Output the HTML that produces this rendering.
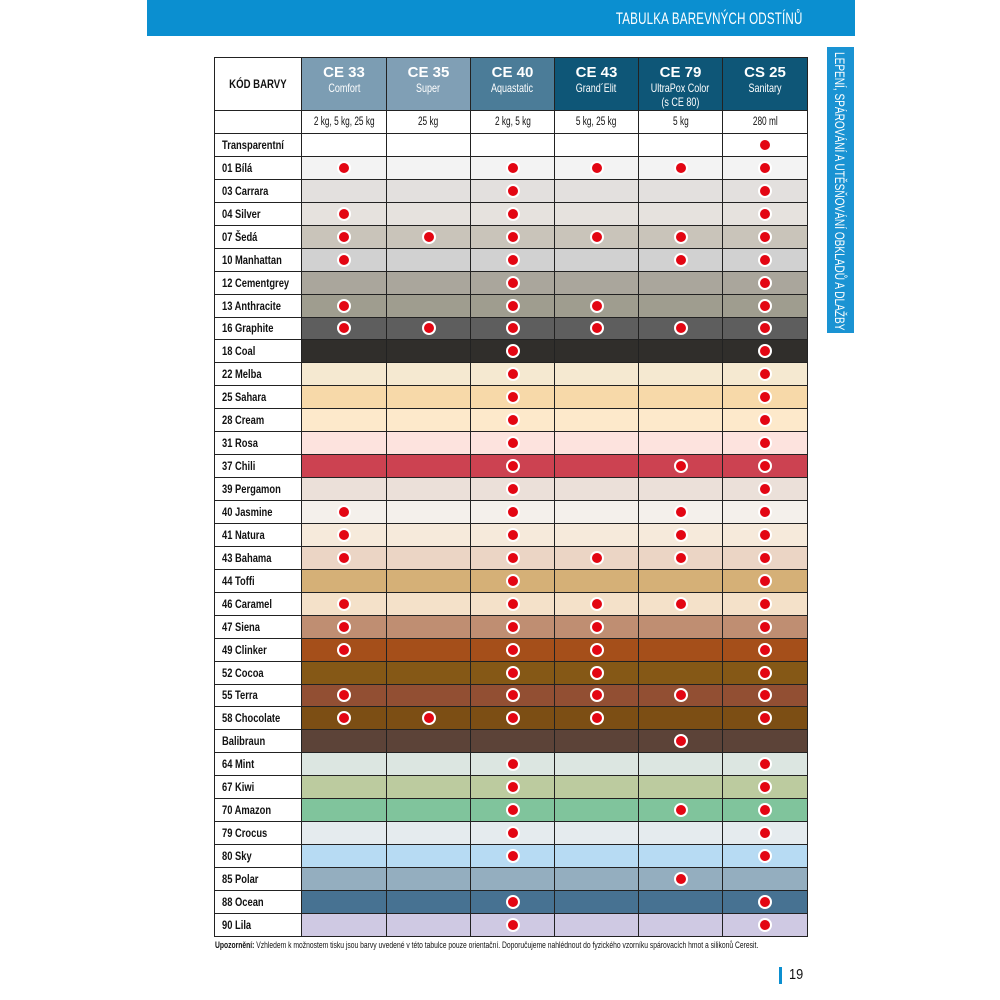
<!DOCTYPE html>
<html><head><meta charset="utf-8">
<style>
html,body{margin:0;padding:0;background:#fff;}
body{width:1000px;height:1000px;position:relative;overflow:hidden;font-family:"Liberation Sans",sans-serif;}
.bar{position:absolute;left:147px;top:0;width:708px;height:36px;background:#0b8fd0;}
.title{position:absolute;right:197px;top:9px;color:#fff;font-size:17px;white-space:nowrap;transform:scaleX(0.68);transform-origin:right center;letter-spacing:0.3px;}
.tab{position:absolute;left:827px;top:47px;width:27px;height:286px;background:#1a93d3;overflow:hidden;}
.tabt{position:absolute;left:5px;top:5px;writing-mode:vertical-rl;color:#fff;font-size:14px;white-space:nowrap;transform:scaleY(0.72);transform-origin:top center;line-height:16px;}
.tbl{position:absolute;left:214px;top:57px;width:594px;height:880px;background:#222;padding:1px;box-sizing:border-box;display:flex;flex-direction:column;gap:1px;}
.r{display:grid;grid-template-columns:86px 84px 83px 83px 83px 83px 1fr;gap:1px;flex:1 1 0;min-height:0;}
.r>div{background:var(--c);display:flex;align-items:center;justify-content:center;overflow:hidden;}
.r>div.n{background:#fff;justify-content:flex-start;padding-left:7px;}
.n span{display:inline-block;font-weight:bold;font-size:12px;color:#111;transform:scaleX(0.78);transform-origin:left center;white-space:nowrap;}
.h{flex:0 0 52px;}
.s{flex:0 0 22px;}
.h>div{flex-direction:column;color:#fff;line-height:13px;justify-content:flex-start !important;padding-top:7px;box-sizing:border-box;}
.h>div b{font-size:15px;display:block;line-height:16px;}
.h>div span{font-size:12px;display:block;transform:scaleX(0.75);white-space:nowrap;line-height:14px;}
.h>div.k{background:#fff;color:#111;justify-content:center !important;padding-top:0;}
.h>div.k b{font-size:12px;transform:scaleX(0.8);white-space:nowrap;}
.s>div{background:#fff;}
.s>div span{font-size:11.5px;color:#111;transform:scaleX(0.72);white-space:nowrap;display:inline-block;}
i{display:block;width:10px;height:10px;border-radius:50%;background:#e30613;border:2px solid #fff;}
.note{position:absolute;left:215px;top:940px;font-size:9px;color:#111;white-space:nowrap;transform:scaleX(0.75);transform-origin:left top;}
.pb{position:absolute;left:779px;top:967px;width:3px;height:17px;background:#0b8fd0;}
.pn{position:absolute;left:789px;top:966px;font-size:15px;color:#111;transform:scaleX(0.85);transform-origin:left top;}
</style></head><body>
<div class="bar"></div>
<div class="title">TABULKA BAREVNÝCH ODSTÍNŮ</div>
<div class="tab"><div class="tabt">LEPENÍ, SPÁROVÁNÍ A UTĚSŇOVÁNÍ OBKLADŮ A DLAŽBY</div></div>

<div class="tbl">
<div class="r h">
<div class="k"><b>KÓD BARVY</b></div>
<div style="background:#7c9db3"><b>CE 33</b><span>Comfort</span></div>
<div style="background:#809fb5"><b>CE 35</b><span>Super</span></div>
<div style="background:#4b7c98"><b>CE 40</b><span>Aquastatic</span></div>
<div style="background:#0e5677"><b>CE 43</b><span>Grand´Elit</span></div>
<div style="background:#0e5677"><b>CE 79</b><span>UltraPox Color</span><span>(s CE 80)</span></div>
<div style="background:#0e5677"><b>CS 25</b><span>Sanitary</span></div>
</div>
<div class="r s">
<div></div>
<div><span>2 kg, 5 kg, 25 kg</span></div>
<div><span>25 kg</span></div>
<div><span>2 kg, 5 kg</span></div>
<div><span>5 kg, 25 kg</span></div>
<div><span>5 kg</span></div>
<div><span>280 ml</span></div>
</div>

<div class="r" style="--c:#ffffff"><div class="n"><span>Transparentní</span></div><div></div><div></div><div></div><div></div><div></div><div><i></i></div></div>
<div class="r" style="--c:#f3f3f3"><div class="n"><span>01 Bílá</span></div><div><i></i></div><div></div><div><i></i></div><div><i></i></div><div><i></i></div><div><i></i></div></div>
<div class="r" style="--c:#e3e0de"><div class="n"><span>03 Carrara</span></div><div></div><div></div><div><i></i></div><div></div><div></div><div><i></i></div></div>
<div class="r" style="--c:#e6e2de"><div class="n"><span>04 Silver</span></div><div><i></i></div><div></div><div><i></i></div><div></div><div></div><div><i></i></div></div>
<div class="r" style="--c:#c9c4ba"><div class="n"><span>07 Šedá</span></div><div><i></i></div><div><i></i></div><div><i></i></div><div><i></i></div><div><i></i></div><div><i></i></div></div>
<div class="r" style="--c:#d1d1d1"><div class="n"><span>10 Manhattan</span></div><div><i></i></div><div></div><div><i></i></div><div></div><div><i></i></div><div><i></i></div></div>
<div class="r" style="--c:#aaa69c"><div class="n"><span>12 Cementgrey</span></div><div></div><div></div><div><i></i></div><div></div><div></div><div><i></i></div></div>
<div class="r" style="--c:#9f9d8f"><div class="n"><span>13 Anthracite</span></div><div><i></i></div><div></div><div><i></i></div><div><i></i></div><div></div><div><i></i></div></div>
<div class="r" style="--c:#5e5e5e"><div class="n"><span>16 Graphite</span></div><div><i></i></div><div><i></i></div><div><i></i></div><div><i></i></div><div><i></i></div><div><i></i></div></div>
<div class="r" style="--c:#302e2b"><div class="n"><span>18 Coal</span></div><div></div><div></div><div><i></i></div><div></div><div></div><div><i></i></div></div>
<div class="r" style="--c:#f5e9d1"><div class="n"><span>22 Melba</span></div><div></div><div></div><div><i></i></div><div></div><div></div><div><i></i></div></div>
<div class="r" style="--c:#f7d9a9"><div class="n"><span>25 Sahara</span></div><div></div><div></div><div><i></i></div><div></div><div></div><div><i></i></div></div>
<div class="r" style="--c:#fde9cb"><div class="n"><span>28 Cream</span></div><div></div><div></div><div><i></i></div><div></div><div></div><div><i></i></div></div>
<div class="r" style="--c:#fde3de"><div class="n"><span>31 Rosa</span></div><div></div><div></div><div><i></i></div><div></div><div></div><div><i></i></div></div>
<div class="r" style="--c:#cc4251"><div class="n"><span>37 Chili</span></div><div></div><div></div><div><i></i></div><div></div><div><i></i></div><div><i></i></div></div>
<div class="r" style="--c:#ebe0d9"><div class="n"><span>39 Pergamon</span></div><div></div><div></div><div><i></i></div><div></div><div></div><div><i></i></div></div>
<div class="r" style="--c:#f4f0eb"><div class="n"><span>40 Jasmine</span></div><div><i></i></div><div></div><div><i></i></div><div></div><div><i></i></div><div><i></i></div></div>
<div class="r" style="--c:#f6eadb"><div class="n"><span>41 Natura</span></div><div><i></i></div><div></div><div><i></i></div><div></div><div><i></i></div><div><i></i></div></div>
<div class="r" style="--c:#ebd5c5"><div class="n"><span>43 Bahama</span></div><div><i></i></div><div></div><div><i></i></div><div><i></i></div><div><i></i></div><div><i></i></div></div>
<div class="r" style="--c:#d5b077"><div class="n"><span>44 Toffi</span></div><div></div><div></div><div><i></i></div><div></div><div></div><div><i></i></div></div>
<div class="r" style="--c:#f4e1c9"><div class="n"><span>46 Caramel</span></div><div><i></i></div><div></div><div><i></i></div><div><i></i></div><div><i></i></div><div><i></i></div></div>
<div class="r" style="--c:#bf8e72"><div class="n"><span>47 Siena</span></div><div><i></i></div><div></div><div><i></i></div><div><i></i></div><div></div><div><i></i></div></div>
<div class="r" style="--c:#a54f1a"><div class="n"><span>49 Clinker</span></div><div><i></i></div><div></div><div><i></i></div><div><i></i></div><div></div><div><i></i></div></div>
<div class="r" style="--c:#855816"><div class="n"><span>52 Cocoa</span></div><div></div><div></div><div><i></i></div><div><i></i></div><div></div><div><i></i></div></div>
<div class="r" style="--c:#924f33"><div class="n"><span>55 Terra</span></div><div><i></i></div><div></div><div><i></i></div><div><i></i></div><div><i></i></div><div><i></i></div></div>
<div class="r" style="--c:#7c4e14"><div class="n"><span>58 Chocolate</span></div><div><i></i></div><div><i></i></div><div><i></i></div><div><i></i></div><div></div><div><i></i></div></div>
<div class="r" style="--c:#5c4338"><div class="n"><span>Balibraun</span></div><div></div><div></div><div></div><div></div><div><i></i></div><div></div></div>
<div class="r" style="--c:#dce6e1"><div class="n"><span>64 Mint</span></div><div></div><div></div><div><i></i></div><div></div><div></div><div><i></i></div></div>
<div class="r" style="--c:#bccb9f"><div class="n"><span>67 Kiwi</span></div><div></div><div></div><div><i></i></div><div></div><div></div><div><i></i></div></div>
<div class="r" style="--c:#80c49c"><div class="n"><span>70 Amazon</span></div><div></div><div></div><div><i></i></div><div></div><div><i></i></div><div><i></i></div></div>
<div class="r" style="--c:#e5ebee"><div class="n"><span>79 Crocus</span></div><div></div><div></div><div><i></i></div><div></div><div></div><div><i></i></div></div>
<div class="r" style="--c:#b7dbf3"><div class="n"><span>80 Sky</span></div><div></div><div></div><div><i></i></div><div></div><div></div><div><i></i></div></div>
<div class="r" style="--c:#94aebf"><div class="n"><span>85 Polar</span></div><div></div><div></div><div></div><div></div><div><i></i></div><div></div></div>
<div class="r" style="--c:#477292"><div class="n"><span>88 Ocean</span></div><div></div><div></div><div><i></i></div><div></div><div></div><div><i></i></div></div>
<div class="r" style="--c:#cfc9e3"><div class="n"><span>90 Lila</span></div><div></div><div></div><div><i></i></div><div></div><div></div><div><i></i></div></div>
</div>

<div class="note"><b>Upozornění:</b> Vzhledem k možnostem tisku jsou barvy uvedené v této tabulce pouze orientační. Doporučujeme nahlédnout do fyzického vzorníku spárovacích hmot a silikonů Ceresit.</div>
<div class="pb"></div>
<div class="pn">19</div>
</body></html>
